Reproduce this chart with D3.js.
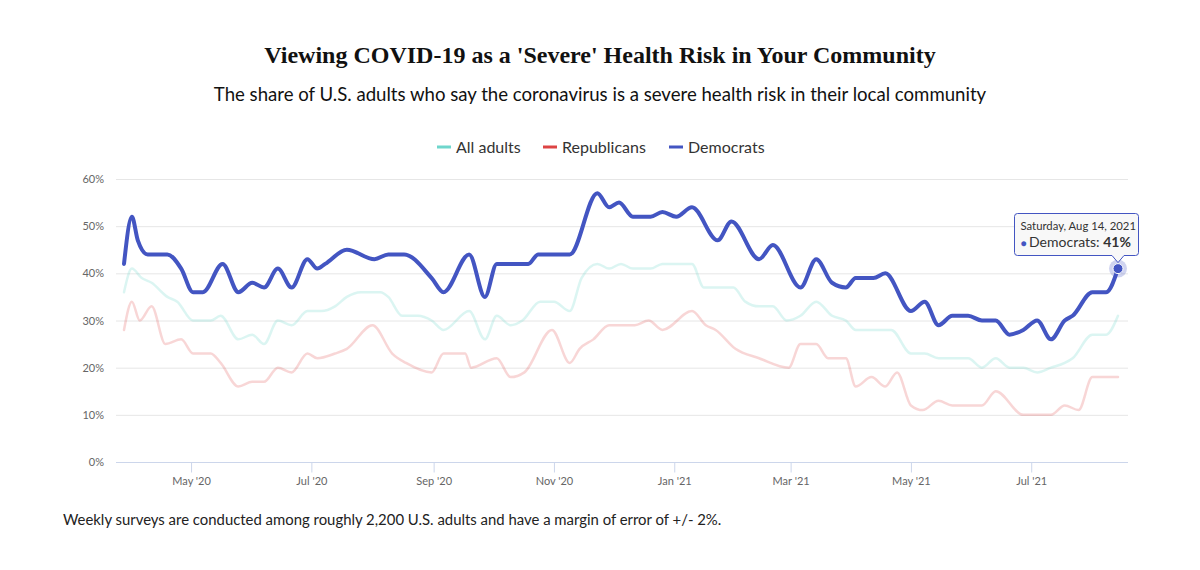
<!DOCTYPE html>
<html>
<head>
<meta charset="utf-8">
<script src="https://cdn.jsdelivr.net/npm/d3@7"></script>
<style>
  body { margin: 0; background: #fff; }
  text { font-family: Lato, "Open Sans", sans-serif; }
</style>
</head>
<body>
<div id="chart"></div>
<script>
// Datos (fecha, porcentaje)
const demDates = ["2020-03-28","2020-04-01","2020-04-04","2020-04-09","2020-04-19","2020-04-26","2020-05-02","2020-05-07","2020-05-17","2020-05-25","2020-06-01","2020-06-07","2020-06-14","2020-06-21","2020-06-29","2020-07-04","2020-07-08","2020-07-19","2020-08-02","2020-08-09","2020-08-17","2020-08-31","2020-09-06","2020-09-19","2020-09-27","2020-10-03","2020-10-19","2020-10-24","2020-11-09","2020-11-23","2020-11-29","2020-12-04","2020-12-11","2020-12-20","2020-12-26","2021-01-02","2021-01-10","2021-01-23","2021-01-30","2021-02-13","2021-02-20","2021-03-06","2021-03-14","2021-03-22","2021-03-29","2021-04-03","2021-04-12","2021-04-18","2021-05-01","2021-05-08","2021-05-15","2021-05-22","2021-05-30","2021-06-06","2021-06-13","2021-06-20","2021-06-27","2021-07-04","2021-07-11","2021-07-18","2021-07-22","2021-08-01","2021-08-08","2021-08-14"];
const demValues = [42,52,47,44,44,41,36,36,42,36,38,37,41,37,43,41,42,45,43,44,44,39,36,44,35,42,42,44,44,57,54,55,52,52,53,52,54,47,51,43,46,37,43,38,37,39,39,40,32,34,29,31,31,30,30,27,28,30,26,30,31,36,36,41];

const allDates = ["2020-03-28","2020-04-01","2020-04-06","2020-04-11","2020-04-19","2020-04-24","2020-05-02","2020-05-11","2020-05-16","2020-05-25","2020-06-01","2020-06-07","2020-06-14","2020-06-21","2020-06-29","2020-07-06","2020-07-13","2020-07-19","2020-07-26","2020-08-05","2020-08-09","2020-08-16","2020-08-24","2020-08-31","2020-09-06","2020-09-19","2020-09-27","2020-10-03","2020-10-10","2020-10-16","2020-10-25","2020-11-01","2020-11-09","2020-11-15","2020-11-23","2020-11-29","2020-12-05","2020-12-11","2020-12-20","2020-12-26","2021-01-10","2021-01-16","2021-01-31","2021-02-06","2021-02-13","2021-02-20","2021-02-27","2021-03-06","2021-03-14","2021-03-22","2021-03-29","2021-04-03","2021-04-21","2021-05-01","2021-05-08","2021-05-15","2021-05-30","2021-06-06","2021-06-13","2021-06-20","2021-06-27","2021-07-04","2021-07-11","2021-07-18","2021-07-22","2021-08-01","2021-08-08","2021-08-14"];
const allValues = [36,41,39,38,35,34,30,30,31,26,27,25,30,29,32,32,33,35,36,36,35,31,31,30,28,32,26,31,29,30,34,34,32,39,42,41,42,41,41,42,42,37,37,34,33,33,30,31,34,31,30,28,28,23,23,22,22,20,22,20,20,19,20,21,22,27,27,31];

const repDates = ["2020-03-28","2020-04-01","2020-04-05","2020-04-11","2020-04-18","2020-04-26","2020-05-02","2020-05-11","2020-05-16","2020-05-25","2020-06-01","2020-06-07","2020-06-14","2020-06-21","2020-06-29","2020-07-04","2020-07-13","2020-07-19","2020-08-01","2020-08-11","2020-08-18","2020-08-31","2020-09-06","2020-09-17","2020-09-20","2020-10-03","2020-10-10","2020-10-17","2020-10-31","2020-11-09","2020-11-14","2020-11-21","2020-11-29","2020-12-12","2020-12-19","2020-12-26","2021-01-10","2021-01-17","2021-01-22","2021-02-01","2021-02-13","2021-02-28","2021-03-06","2021-03-14","2021-03-20","2021-03-29","2021-04-03","2021-04-11","2021-04-18","2021-04-24","2021-05-01","2021-05-07","2021-05-15","2021-05-22","2021-06-06","2021-06-13","2021-06-27","2021-07-11","2021-07-18","2021-07-25","2021-08-01","2021-08-14"];
const repValues = [28,34,30,33,25,26,23,23,21,16,17,17,20,19,23,22,23,24,29,23,21,19,23,23,20,22,18,19,28,21,24,26,29,29,30,28,32,29,28,24,22,20,25,25,22,22,16,18,16,19,12,11,13,12,12,15,10,10,12,11,18,18];

const yTicks = [0, 10, 20, 30, 40, 50, 60];

const parse = d3.timeParse("%Y-%m-%d");
const series = [
  { name: "All adults", color: "#6fd6cc", dates: allDates, values: allValues, width: 2.5, opacity: 0.25 },
  { name: "Republicans", color: "#dd4444", dates: repDates, values: repValues, width: 2.5, opacity: 0.22 },
  { name: "Democrats", color: "#4355c2", dates: demDates, values: demValues, width: 4, opacity: 1 }
];

const W = 1200, H = 570;
const plotLeft = 116, plotRight = 1128, plotTop = 179, plotBottom = 462;

const svg = d3.select("#chart").append("svg")
    .attr("width", W)
    .attr("height", H);

const x = d3.scaleTime()
    .domain([parse("2020-03-28"), parse("2021-08-14")])
    .range([124, 1118]);
const y = d3.scaleLinear().domain([0, 60]).range([plotBottom, plotTop]);

// Título y subtítulo
svg.append("text")
    .attr("x", 600).attr("y", 63)
    .attr("text-anchor", "middle")
    .style("font-family", "'Liberation Serif', 'DejaVu Serif', serif")
    .style("font-weight", "bold")
    .style("font-size", "24px")
    .style("fill", "#111")
    .text("Viewing COVID-19 as a 'Severe' Health Risk in Your Community");

svg.append("text")
    .attr("x", 600).attr("y", 101)
    .attr("text-anchor", "middle")
    .style("font-size", "18.6px")
    .style("fill", "#111")
    .text("The share of U.S. adults who say the coronavirus is a severe health risk in their local community");

// Leyenda
const legendX = [437, 543, 669];
series.forEach((s, i) => {
    const g = svg.append("g").attr("transform", "translate(" + legendX[i] + ",147)");
    g.append("line")
        .attr("x1", 0).attr("x2", 14)
        .attr("stroke", s.color).attr("stroke-width", 3);
    g.append("text")
        .attr("x", 19).attr("y", 5.5)
        .style("font-size", "16px")
        .style("fill", "#333")
        .text(s.name);
});

// Rejilla y eje Y
svg.append("g").selectAll("line")
    .data(yTicks.filter(d => d > 0))
    .join("line")
    .attr("x1", plotLeft).attr("x2", plotRight)
    .attr("y1", d => y(d) + 0.5).attr("y2", d => y(d) + 0.5)
    .attr("stroke", "#e6e6e6");

svg.append("g").selectAll("text")
    .data(yTicks)
    .join("text")
    .attr("x", 104).attr("y", d => y(d) + 4)
    .attr("text-anchor", "end")
    .style("font-size", "11px")
    .style("fill", "#666")
    .text(d => d + "%");

// Eje X
const xAxis = d3.axisBottom(x)
    .ticks(d3.timeMonth.every(2))
    .tickFormat(d3.timeFormat("%b '%y"))
    .tickSize(10)
    .tickSizeOuter(0);

const gx = svg.append("g")
    .attr("transform", "translate(0," + (plotBottom + 0.5) + ")")
    .call(xAxis);
gx.select(".domain").remove();
gx.insert("line", ":first-child")
    .attr("x1", plotLeft).attr("x2", plotRight)
    .attr("stroke", "#ccd6eb");
gx.selectAll(".tick line").attr("stroke", "#ccd6eb");
gx.selectAll(".tick text")
    .attr("y", 15)
    .style("font-family", "Lato, 'Open Sans', sans-serif")
    .style("font-size", "11px")
    .style("fill", "#666");

// Líneas
const line = d3.line()
    .x(d => x(d[0]))
    .y(d => y(d[1]))
    .curve(d3.curveMonotoneX);

series.forEach(s => {
    const pts = s.dates.map((d, i) => [parse(d), s.values[i]]);
    svg.append("path")
        .datum(pts)
        .attr("fill", "none")
        .attr("stroke", s.color)
        .attr("stroke-width", s.width)
        .attr("stroke-linejoin", "round")
        .attr("stroke-linecap", "round")
        .attr("opacity", s.opacity)
        .attr("d", line);
});

// Punto resaltado y tooltip
const dem = series[2];
const lastDate = parse(dem.dates[dem.dates.length - 1]);
const lastVal = dem.values[dem.values.length - 1];
const px = x(lastDate), py = y(lastVal);

svg.append("circle")
    .attr("cx", px).attr("cy", py).attr("r", 9)
    .attr("fill", dem.color).attr("opacity", 0.25);
svg.append("circle")
    .attr("cx", px).attr("cy", py).attr("r", 5)
    .attr("fill", dem.color)
    .attr("stroke", "#fff").attr("stroke-width", 1);

const bx = 1014.5, by = 213.5, bw = 124, bh = 42, r = 3;
const ax = px, ay = py - 6;
const tip = "M" + (bx + r) + "," + by +
    " H" + (bx + bw - r) + " Q" + (bx + bw) + "," + by + " " + (bx + bw) + "," + (by + r) +
    " V" + (by + bh - r) + " Q" + (bx + bw) + "," + (by + bh) + " " + (bx + bw - r) + "," + (by + bh) +
    " H" + (ax + 6) + " L" + ax + "," + ay + " L" + (ax - 6) + "," + (by + bh) +
    " H" + (bx + r) + " Q" + bx + "," + (by + bh) + " " + bx + "," + (by + bh - r) +
    " V" + (by + r) + " Q" + bx + "," + by + " " + (bx + r) + "," + by + " Z";

svg.append("path")
    .attr("d", tip)
    .attr("fill", "rgba(247,247,247,0.9)")
    .attr("stroke", dem.color)
    .attr("stroke-width", 1);

svg.append("text")
    .attr("x", bx + 6).attr("y", by + 16)
    .style("font-size", "11.3px")
    .style("fill", "#333")
    .text(d3.timeFormat("%A, %b %d, %Y")(lastDate));

const t2 = svg.append("text")
    .attr("x", bx + 6).attr("y", by + 33)
    .style("font-size", "14px")
    .style("fill", "#333");
t2.append("tspan").style("fill", dem.color).style("font-size", "10px").text("● ");
t2.append("tspan").text("Democrats: ");
t2.append("tspan").style("font-weight", "bold").text(lastVal + "%");

// Nota al pie
svg.append("text")
    .attr("x", 63).attr("y", 525)
    .style("font-size", "14.9px")
    .style("fill", "#222")
    .text("Weekly surveys are conducted among roughly 2,200 U.S. adults and have a margin of error of +/- 2%.");
</script>
</body>
</html>
